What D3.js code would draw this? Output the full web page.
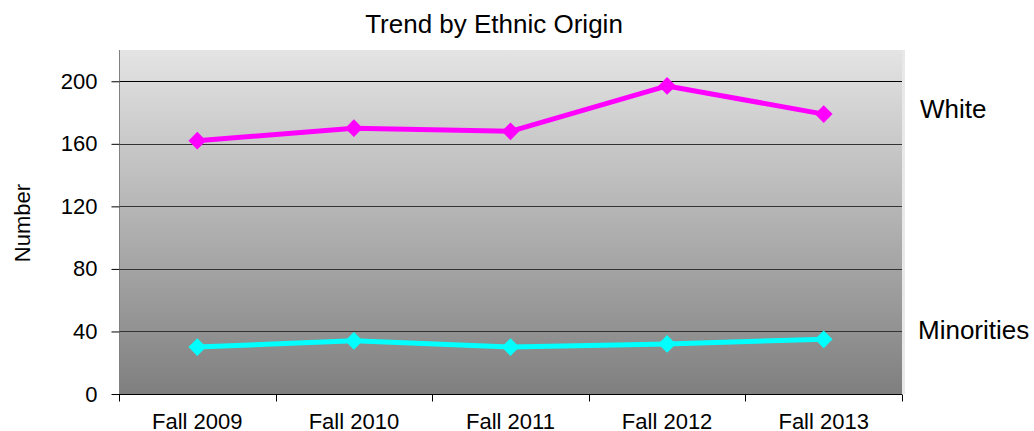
<!DOCTYPE html>
<html>
<head>
<meta charset="utf-8">
<script src="https://cdn.jsdelivr.net/npm/d3@7/dist/d3.min.js"></script>
<style>
body { margin: 0; background: #fff; }
text { font-family: "Liberation Sans", Arial, sans-serif; fill: #000; }
</style>
</head>
<body>
<svg width="1034" height="431"></svg>
<script>
var years = ['Fall 2009', 'Fall 2010', 'Fall 2011', 'Fall 2012', 'Fall 2013'];
var white = [162, 170, 168, 197, 179];
var minorities = [30, 34, 30, 32, 35];
var yTicks = [0, 40, 80, 120, 160, 200];

var svg = d3.select('svg'),
	margin = {top: 50, right: 132, bottom: 37, left: 119},
	width = 1034 - margin.left - margin.right,
	height = 431 - margin.top - margin.bottom,
	g = svg.append('g').attr('transform', 'translate(' + margin.left + ',' + margin.top + ')');

var x = d3.scaleBand().domain(years).range([0, width]);
var y = d3.scaleLinear().domain([0, 220]).range([height, 0]);

var grad = svg.append('defs').append('linearGradient')
	.attr('id', 'bg').attr('x1', 0).attr('y1', 0).attr('x2', 0).attr('y2', 1);
grad.append('stop').attr('offset', '0%').attr('stop-color', '#e4e4e4');
grad.append('stop').attr('offset', '100%').attr('stop-color', '#7f7f7f');

// faint shadow at right edge
g.append('rect').attr('x', 1).attr('y', 0).attr('width', width + 2).attr('height', height)
	.attr('fill', '#e8e8e8');
g.append('rect').attr('width', width).attr('height', height).attr('fill', 'url(#bg)');

// gridlines
g.selectAll('.grid').data(yTicks.filter(function(d) { return d > 0; }))
	.enter().append('line')
	.attr('x1', 0).attr('x2', width)
	.attr('y1', function(d) { return Math.round(y(d)) + 0.5; })
	.attr('y2', function(d) { return Math.round(y(d)) + 0.5; })
	.attr('stroke', function(d) { return d >= 200 ? '#000' : '#333'; })
	.attr('stroke-width', 1);

// y axis
var yAxis = g.append('g')
	.attr('transform', 'translate(0.5,0)')
	.call(d3.axisLeft(y).tickValues(yTicks).tickSize(8).tickPadding(14));
yAxis.select('.domain').attr('stroke', '#808080').attr('d', 'M0,0V' + height);
yAxis.selectAll('.tick line').attr('stroke', '#000');
yAxis.selectAll('.tick text').style('font-size', '22px');

// x axis
var xAxis = g.append('g')
	.attr('transform', 'translate(0,' + (Math.round(height) + 0.5) + ')')
	.call(d3.axisBottom(x).tickSize(0).tickPadding(19));
xAxis.select('.domain').attr('stroke', '#000').attr('d', 'M0,0H' + width);
xAxis.selectAll('.tick text').style('font-size', '22px');
xAxis.selectAll('.bound').data(d3.range(years.length + 1))
	.enter().append('line')
	.attr('x1', function(i) { return Math.round(i * x.step()) + 0.5; })
	.attr('x2', function(i) { return Math.round(i * x.step()) + 0.5; })
	.attr('y1', 0).attr('y2', 7)
	.attr('stroke', '#000');

var line = d3.line()
	.x(function(d, i) { return x(years[i]) + x.bandwidth() / 2; })
	.y(function(d) { return y(d); });

var diamond = d3.symbol().type(d3.symbolDiamond2).size(200);

function drawSeries(data, color) {
	g.append('path')
		.datum(data)
		.attr('fill', 'none')
		.attr('stroke', color)
		.attr('stroke-width', 5)
		.attr('stroke-linejoin', 'round')
		.attr('d', line);
	g.selectAll(null).data(data).enter().append('path')
		.attr('d', diamond)
		.attr('transform', function(d, i) {
			return 'translate(' + (x(years[i]) + x.bandwidth() / 2) + ',' + y(d) + ')';
		})
		.attr('fill', color);
}
drawSeries(white, '#ff00ff');
drawSeries(minorities, '#00ffff');

// labels
svg.append('text').attr('x', 494).attr('y', 33).attr('text-anchor', 'middle')
	.style('font-size', '26px').text('Trend by Ethnic Origin');
svg.append('text').attr('transform', 'translate(30,223) rotate(-90)')
	.attr('text-anchor', 'middle').style('font-size', '22px').text('Number');
svg.append('text').attr('x', 920).attr('y', 118).style('font-size', '26px').text('White');
svg.append('text').attr('x', 918).attr('y', 339).style('font-size', '26px').text('Minorities');
</script>
</body>
</html>
